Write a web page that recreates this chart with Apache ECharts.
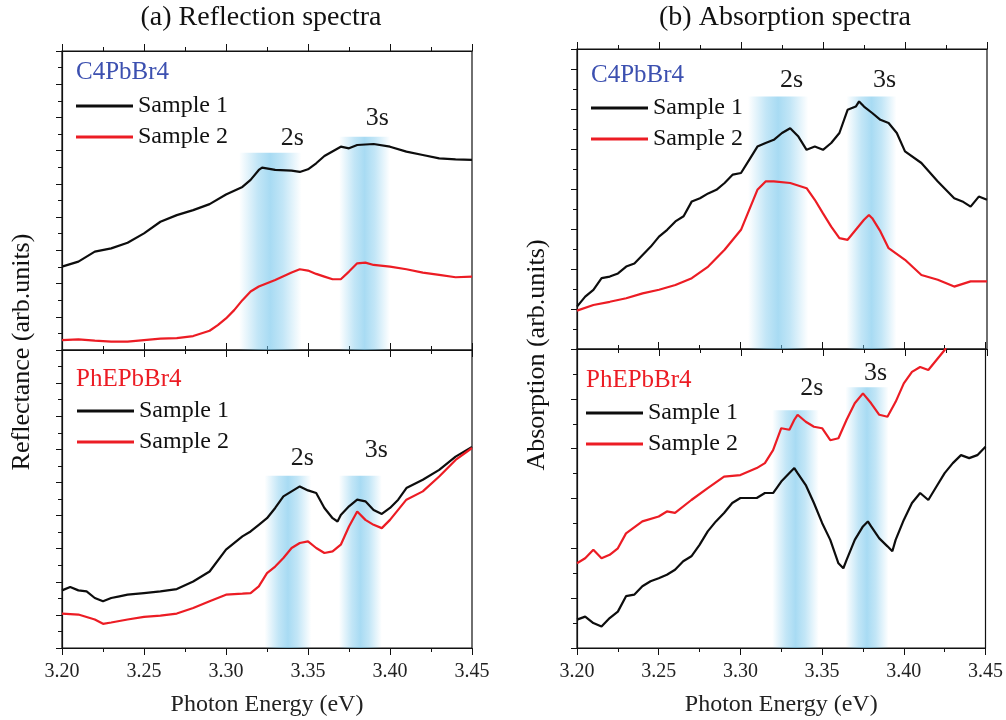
<!DOCTYPE html>
<html>
<head>
<meta charset="utf-8">
<script src="https://cdn.jsdelivr.net/npm/echarts@6/dist/echarts.min.js"></script>
<style>
  html, body { margin: 0; padding: 0; background: #fff; }
  #chart { width: 1006px; height: 720px; }
</style>
</head>
<body>
<div id="chart"></div>
<script>
// photon energy axis
const energyMin = 3.20;
const energyMax = 3.45;

// (a) reflection, C4PbBr4
const reflC4Sample1 = [[3.20,2.51],[3.21,2.66],[3.22,2.96],[3.23,3.06],[3.24,3.23],[3.25,3.51],[3.26,3.86],[3.27,4.06],[3.28,4.21],[3.29,4.39],[3.30,4.68],[3.31,4.91],[3.315,5.12],[3.32,5.42],[3.322,5.49],[3.33,5.42],[3.34,5.40],[3.345,5.36],[3.35,5.44],[3.355,5.62],[3.36,5.84],[3.37,6.12],[3.375,6.07],[3.38,6.17],[3.39,6.20],[3.40,6.12],[3.41,5.97],[3.42,5.87],[3.43,5.77],[3.44,5.74],[3.45,5.72]];
const reflC4Sample2 = [[3.20,0.30],[3.21,0.32],[3.22,0.28],[3.23,0.25],[3.24,0.25],[3.25,0.30],[3.26,0.34],[3.27,0.36],[3.28,0.42],[3.29,0.58],[3.295,0.75],[3.30,0.95],[3.305,1.20],[3.31,1.50],[3.315,1.76],[3.32,1.91],[3.33,2.11],[3.34,2.33],[3.345,2.43],[3.35,2.39],[3.355,2.29],[3.36,2.21],[3.365,2.13],[3.37,2.13],[3.375,2.36],[3.38,2.61],[3.385,2.63],[3.39,2.56],[3.40,2.51],[3.41,2.43],[3.42,2.33],[3.43,2.26],[3.44,2.19],[3.45,2.21]];

// (a) reflection, PhEPbBr4
const reflPhESample1 = [[3.20,1.74],[3.205,1.84],[3.21,1.74],[3.215,1.71],[3.22,1.51],[3.225,1.41],[3.23,1.51],[3.235,1.56],[3.24,1.61],[3.25,1.66],[3.26,1.71],[3.27,1.78],[3.28,2.01],[3.29,2.31],[3.30,2.97],[3.31,3.37],[3.315,3.52],[3.32,3.72],[3.325,3.92],[3.33,4.23],[3.335,4.58],[3.34,4.73],[3.345,4.88],[3.35,4.76],[3.355,4.68],[3.36,4.23],[3.365,3.92],[3.368,3.82],[3.37,4.02],[3.375,4.28],[3.38,4.48],[3.385,4.43],[3.39,4.17],[3.395,4.05],[3.40,4.23],[3.405,4.48],[3.41,4.83],[3.42,5.08],[3.43,5.38],[3.44,5.78],[3.45,6.07]];
const reflPhESample2 = [[3.20,1.04],[3.21,1.01],[3.22,0.86],[3.225,0.73],[3.23,0.77],[3.24,0.86],[3.25,0.94],[3.26,0.98],[3.27,1.04],[3.28,1.21],[3.29,1.41],[3.30,1.61],[3.31,1.64],[3.315,1.66],[3.32,1.86],[3.325,2.26],[3.33,2.46],[3.335,2.72],[3.34,3.02],[3.345,3.17],[3.35,3.22],[3.355,3.02],[3.36,2.87],[3.365,2.92],[3.37,3.12],[3.375,3.67],[3.38,4.12],[3.385,3.87],[3.39,3.72],[3.395,3.62],[3.40,3.87],[3.41,4.48],[3.42,4.73],[3.43,5.18],[3.44,5.68],[3.45,6.04]];

// (b) absorption, C4PbBr4
const absC4Sample1 = [[3.20,1.06],[3.205,1.31],[3.21,1.48],[3.215,1.77],[3.22,1.81],[3.225,1.89],[3.23,2.06],[3.235,2.14],[3.24,2.35],[3.245,2.56],[3.25,2.81],[3.255,2.98],[3.26,3.19],[3.265,3.32],[3.27,3.69],[3.275,3.77],[3.28,3.89],[3.285,3.98],[3.29,4.15],[3.295,4.36],[3.30,4.40],[3.305,4.73],[3.31,5.06],[3.315,5.15],[3.32,5.23],[3.325,5.40],[3.33,5.52],[3.335,5.31],[3.34,4.98],[3.345,5.06],[3.35,4.98],[3.355,5.15],[3.36,5.40],[3.365,5.98],[3.37,6.06],[3.372,6.19],[3.375,6.06],[3.38,5.90],[3.385,5.73],[3.39,5.65],[3.395,5.40],[3.40,4.94],[3.41,4.65],[3.42,4.19],[3.43,3.77],[3.435,3.69],[3.44,3.56],[3.445,3.81],[3.45,3.73]];
const absC4Sample2 = [[3.20,0.96],[3.21,1.10],[3.22,1.18],[3.23,1.27],[3.24,1.39],[3.25,1.48],[3.26,1.60],[3.27,1.77],[3.28,2.06],[3.29,2.48],[3.30,2.98],[3.305,3.48],[3.31,3.98],[3.315,4.19],[3.32,4.19],[3.33,4.15],[3.34,4.02],[3.345,3.73],[3.35,3.39],[3.355,3.06],[3.36,2.77],[3.365,2.73],[3.37,2.98],[3.375,3.23],[3.378,3.35],[3.38,3.27],[3.385,2.94],[3.39,2.52],[3.40,2.23],[3.41,1.85],[3.42,1.73],[3.43,1.56],[3.44,1.69],[3.45,1.69]];

// (b) absorption, PhEPbBr4
const absPhESample1 = [[3.20,0.57],[3.205,0.63],[3.21,0.50],[3.215,0.43],[3.22,0.60],[3.225,0.73],[3.23,1.04],[3.235,1.07],[3.24,1.24],[3.245,1.34],[3.25,1.40],[3.255,1.47],[3.26,1.57],[3.265,1.74],[3.27,1.84],[3.275,2.07],[3.28,2.34],[3.285,2.54],[3.29,2.71],[3.295,2.91],[3.30,3.01],[3.31,3.01],[3.315,3.11],[3.32,3.11],[3.325,3.34],[3.33,3.51],[3.333,3.61],[3.335,3.51],[3.34,3.27],[3.345,2.91],[3.35,2.51],[3.355,2.17],[3.36,1.70],[3.363,1.60],[3.365,1.77],[3.37,2.17],[3.375,2.44],[3.378,2.54],[3.38,2.44],[3.385,2.20],[3.39,2.04],[3.393,1.94],[3.395,2.17],[3.40,2.57],[3.405,2.91],[3.41,3.11],[3.415,2.97],[3.42,3.24],[3.425,3.51],[3.43,3.71],[3.435,3.87],[3.44,3.81],[3.445,3.87],[3.45,4.04]];
const absPhESample2 = [[3.20,1.70],[3.205,1.80],[3.21,1.97],[3.215,1.80],[3.22,1.87],[3.225,2.00],[3.23,2.30],[3.24,2.54],[3.25,2.64],[3.255,2.74],[3.26,2.71],[3.27,2.97],[3.28,3.21],[3.29,3.44],[3.30,3.47],[3.31,3.61],[3.315,3.71],[3.32,3.97],[3.325,4.41],[3.33,4.38],[3.333,4.58],[3.335,4.68],[3.34,4.54],[3.345,4.44],[3.35,4.41],[3.355,4.17],[3.36,4.21],[3.365,4.58],[3.37,4.91],[3.375,5.11],[3.38,4.91],[3.385,4.68],[3.39,4.64],[3.395,4.94],[3.40,5.31],[3.405,5.54],[3.41,5.64],[3.415,5.58],[3.42,5.78],[3.425,5.98],[3.428,6.18]];

// exciton bands [from, to, top] and "2s"/"3s" label positions [x, y], per panel
const bandsReflC4 = [[3.308, 3.346, 5.94], [3.369, 3.400, 6.42]];
const labelsReflC4 = [[3.3405, 6.38], [3.3923, 6.98]];
const bandsReflPhE = [[3.3235, 3.352, 5.20], [3.3688, 3.395, 5.20]];
const labelsReflPhE = [[3.3466, 5.74], [3.3917, 5.98]];
const bandsAbsC4 = [[3.3043, 3.341, 6.31], [3.3643, 3.3948, 6.31]];
const labelsAbsC4 = [[3.3309, 6.73], [3.3876, 6.73]];
const bandsAbsPhE = [[3.3195, 3.348, 4.77], [3.3643, 3.3907, 5.23]];
const labelsAbsPhE = [[3.3437, 5.22], [3.3827, 5.52]];
const bandNames = ['2s', '3s'];

// y ranges of the four panels (arb. units)
const yMaxes = [9, 9, 7.5, 6];

const serif = 'Liberation Serif';
const black = '#0d0d0d';
const red = '#ec1c24';

const chart = echarts.init(document.getElementById('chart'));

const grids = [
  { left: 62, top: 51, width: 410, height: 299 },
  { left: 62, top: 350, width: 410, height: 298 },
  { left: 577, top: 49, width: 410, height: 300 },
  { left: 577, top: 349, width: 410, height: 299 },
];

const bandColor = {
  type: 'linear', x: 0, y: 0, x2: 1, y2: 0,
  colorStops: [
    { offset: 0, color: 'rgba(110,195,235,0)' },
    { offset: 0.3, color: 'rgba(110,195,235,0.42)' },
    { offset: 0.5, color: 'rgba(110,195,235,0.6)' },
    { offset: 0.7, color: 'rgba(110,195,235,0.42)' },
    { offset: 1, color: 'rgba(110,195,235,0)' },
  ],
};

const xAxes = [];
const yAxes = [];
grids.forEach((g, i) => {
  const bottom = i === 1 || i === 3;
  const base = {
    type: 'value',
    gridIndex: i,
    min: energyMin,
    max: energyMax,
    interval: 0.05,
    axisLine: { show: true, onZero: false, lineStyle: { color: '#111', width: 1.2 } },
    axisTick: { show: true, inside: false, length: 7, lineStyle: { color: '#111' } },
    minorTick: { show: true, splitNumber: 2, length: 4, lineStyle: { color: '#111' } },
    splitLine: { show: false },
  };
  xAxes.push(Object.assign({}, base, {
    position: 'bottom',
    axisLabel: {
      show: bottom,
      margin: 14,
      color: '#222',
      fontFamily: serif,
      fontSize: 20,
      formatter: (v) => v.toFixed(2),
    },
    name: bottom ? 'Photon Energy (eV)' : '',
    nameLocation: 'middle',
    nameGap: 45,
    nameTextStyle: { color: '#222', fontFamily: serif, fontSize: 24 },
  }));
  xAxes.push(Object.assign({}, base, {
    position: 'top',
    axisLabel: { show: false },
  }));
  yAxes.push({
    type: 'value',
    gridIndex: i,
    min: 0,
    max: yMaxes[i],
    interval: 1,
    axisLine: { show: true, onZero: false, lineStyle: { color: '#111', width: 1.2 } },
    axisTick: { show: true, inside: false, length: 6, lineStyle: { color: '#111' } },
    minorTick: { show: true, splitNumber: 2, length: 4, lineStyle: { color: '#111' } },
    axisLabel: { show: false },
    splitLine: { show: false },
  });
});

function curve(name, data, color, i) {
  return {
    type: 'line',
    name: name,
    xAxisIndex: i * 2,
    yAxisIndex: i,
    data: data,
    showSymbol: false,
    smooth: false,
    lineStyle: { color: color, width: 2.2 },
    itemStyle: { color: color },
    z: 2,
  };
}

function bands(ranges, labels, i) {
  return {
    type: 'line',
    name: 'bands' + i,
    xAxisIndex: i * 2,
    yAxisIndex: i,
    data: [],
    z: 3,
    silent: true,
    markArea: {
      silent: true,
      itemStyle: { color: bandColor },
      data: ranges.map((r) => [{ coord: [r[0], 0] }, { coord: [r[1], r[2]] }]),
    },
    markPoint: {
      silent: true,
      symbol: 'circle',
      symbolSize: 1,
      itemStyle: { color: 'rgba(0,0,0,0)' },
      label: {
        show: true,
        position: 'inside',
        color: '#1a1a1a',
        fontFamily: serif,
        fontSize: 26,
        formatter: (p) => p.name,
      },
      data: labels.map((p, k) => ({ name: bandNames[k], coord: p })),
    },
  };
}

function legendAt(left, top) {
  return {
    orient: 'vertical',
    left: left,
    top: top,
    padding: 0,
    icon: 'rect',
    itemWidth: 57,
    itemHeight: 3,
    itemGap: 7,
    selectedMode: false,
    data: ['Sample 1', 'Sample 2'],
    textStyle: { color: '#111', fontFamily: serif, fontSize: 24, padding: [0, 0, 0, 0] },
  };
}

function tag(text, left, top, color) {
  return {
    text: text,
    left: left,
    top: top,
    padding: 0,
    textStyle: { color: color, fontFamily: serif, fontSize: 25, fontWeight: 'normal' },
  };
}

const option = {
  animation: false,
  backgroundColor: '#fff',
  title: [
    { text: '(a) Reflection spectra', left: 261, top: 4, textAlign: 'center', padding: 0,
      textStyle: { color: '#111', fontFamily: serif, fontSize: 28, fontWeight: 'normal' } },
    { text: '(b) Absorption spectra', left: 785, top: 4, textAlign: 'center', padding: 0,
      textStyle: { color: '#111', fontFamily: serif, fontSize: 28, fontWeight: 'normal' } },
    tag('C4PbBr4', 76, 60, '#3c50b0'),
    tag('PhEPbBr4', 76, 367, red),
    tag('C4PbBr4', 591, 63, '#3c50b0'),
    tag('PhEPbBr4', 586, 368, red),
  ],
  legend: [
    legendAt(76, 94),
    legendAt(77, 399),
    legendAt(591, 96),
    legendAt(586, 401),
  ],
  grid: grids.map((g) => Object.assign({ show: true, borderColor: '#111', borderWidth: 1.2, backgroundColor: 'transparent' }, g)),
  xAxis: xAxes,
  yAxis: yAxes,
  graphic: [
    { type: 'text', x: 22, y: 352, rotation: Math.PI / 2,
      style: { text: 'Reflectance (arb.units)', fill: '#111', font: '26px "Liberation Serif"', align: 'center', verticalAlign: 'middle' } },
    { type: 'text', x: 537, y: 355, rotation: Math.PI / 2,
      style: { text: 'Absorption (arb.units)', fill: '#111', font: '26px "Liberation Serif"', align: 'center', verticalAlign: 'middle' } },
  ],
  series: [
    curve('Sample 1', reflC4Sample1, black, 0),
    curve('Sample 2', reflC4Sample2, red, 0),
    curve('Sample 1', reflPhESample1, black, 1),
    curve('Sample 2', reflPhESample2, red, 1),
    curve('Sample 1', absC4Sample1, black, 2),
    curve('Sample 2', absC4Sample2, red, 2),
    curve('Sample 1', absPhESample1, black, 3),
    curve('Sample 2', absPhESample2, red, 3),
    bands(bandsReflC4, labelsReflC4, 0),
    bands(bandsReflPhE, labelsReflPhE, 1),
    bands(bandsAbsC4, labelsAbsC4, 2),
    bands(bandsAbsPhE, labelsAbsPhE, 3),
  ],
};

chart.setOption(option);
</script>
</body>
</html>
